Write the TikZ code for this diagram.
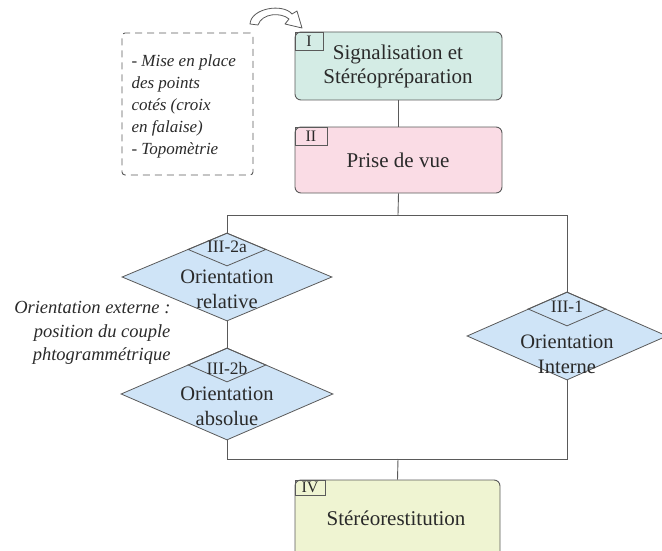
\documentclass[tikz,border=0pt]{standalone}
\usepackage{fontspec}
\setmainfont{Liberation Serif}
\usetikzlibrary{shapes.geometric}
\definecolor{lc}{HTML}{5A5A5A}
\definecolor{tc}{HTML}{2A2A2A}
\definecolor{cI}{HTML}{D4ECE5}
\definecolor{cII}{HTML}{FADCE5}
\definecolor{cIII}{HTML}{CFE4F7}
\definecolor{cIV}{HTML}{EFF4D2}
\tikzset{
  box/.style={draw=lc, line width=0.9pt, rounded corners=6pt, minimum width=207pt, inner sep=0pt},
  tag/.style={draw=lc, line width=0.8pt, anchor=north west, inner sep=0pt, text=tc, font=\fontsize{16}{18}\selectfont},
  bigdia/.style={diamond, draw=lc, line width=0.8pt, fill=cIII, inner sep=0pt},
  smalldia/.style={diamond, draw=lc, line width=0.8pt, inner sep=0pt, anchor=north},
  btext/.style={text=tc, align=center, font=\fontsize{21}{24}\selectfont},
  dtext/.style={text=tc, align=center, font=\fontsize{20.5}{25}\selectfont},
  ltext/.style={text=tc, font=\fontsize{17.5}{18}\selectfont},
  conn/.style={draw=lc, line width=0.9pt},
}
\begin{document}
\begin{tikzpicture}[x=1pt, y=-1pt]
\useasboundingbox (0,0) rectangle (662,551);
\clip (0,0) rectangle (662,551);
% boxes
\node[box, fill=cI, minimum height=68pt] (b1) at (398.5,66) {};
\node[btext] (t1) at (398,66.5) {Signalisation et\\Stéréopréparation};
\node[tag, minimum width=28pt, minimum height=18pt] (g1) at (b1.north west) {I};
\node[box, fill=cII, minimum height=66pt] (b2) at (398.5,160) {};
\node[btext] (t2) at (398,160) {Prise de vue};
\node[tag, minimum width=32pt, minimum height=18pt] (g2) at (b2.north west) {II};
\node[box, fill=cIV, minimum height=80pt, minimum width=205pt] (b4) at (397.5,520) {};
\node[btext] (t4) at (396,518) {Stéréorestitution};
\node[tag, minimum width=30pt, minimum height=15pt] (g4) at (b4.north west) {IV};
% diamonds
\node[bigdia, minimum width=210pt, minimum height=88pt] (d2a) at (227,277) {};
\node[smalldia, minimum width=78pt, minimum height=33pt] (s2a) at (d2a.north) {};
\node[ltext] at (227,247) {III-2a};
\node[dtext] at (227,289) {Orientation\\relative};
\node[bigdia, minimum width=212pt, minimum height=92pt] (d2b) at (227,394) {};
\node[smalldia, minimum width=78pt, minimum height=34pt] (s2b) at (d2b.north) {};
\node[ltext] at (227,369) {III-2b};
\node[dtext] at (227,406) {Orientation\\absolue};
\node[bigdia, minimum width=200pt, minimum height=88pt] (d1) at (567,336) {};
\node[smalldia, minimum width=78pt, minimum height=34pt] (s1) at (d1.north) {};
\node[ltext] at (567,307) {III-1};
\node[dtext] at (567,354) {Orientation\\Interne};
% connectors
\coordinate (top) at (398,215);
\coordinate (bot) at (398,459);
\draw[conn] (b1.south) -- (b2.north);
\draw[conn] (b2.south) -- (top);
\draw[conn] (d2a.north) -- (d2a.north |- top) -- (d1.north |- top) -- (d1.north);
\draw[conn] (d2a.south) -- (d2b.north);
\draw[conn] (d2b.south) -- (d2b.south |- bot) -- (d1.south |- bot) -- (d1.south);
\draw[conn] (bot) -- (b4.north);
% dashed note
\node[draw=lc, line width=0.9pt, dash pattern=on 7pt off 5pt, rounded corners=3pt, minimum width=131pt, minimum height=142pt, inner sep=0pt] (note) at (187.5,104) {};
\node[text=tc, align=left, anchor=west, font=\itshape\fontsize{17}{22}\selectfont] (notet) at (128,106) {- Mise en place\\des points\\cotés (croix\\en falaise)\\- Topomètrie};
% left italic text
\node[text=tc, align=right, anchor=east, font=\itshape\fontsize{18.5}{23.5}\selectfont] (ext) at (174,333) {Orientation externe :\\position du couple\\phtogrammétrique};
% curved hollow arrow
\draw[lc, line width=0.8pt, fill=white, line join=round]
  (250,24) .. controls (251,8) and (283,3) .. (292,14)
  -- (297,11) -- (302,28) -- (285,24) -- (289,19)
  .. controls (281,12) and (262,13) .. (258,25) -- cycle;
\end{tikzpicture}
\end{document}
